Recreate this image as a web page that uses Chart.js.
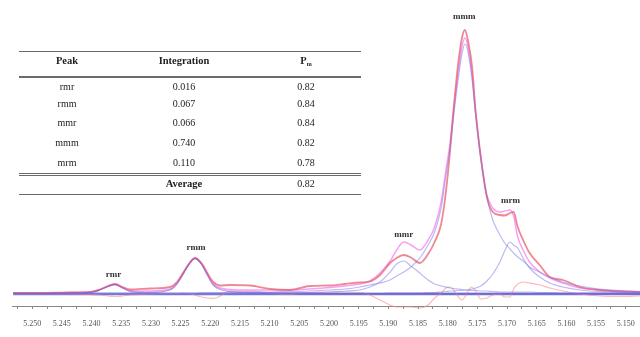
<!DOCTYPE html>
<html>
<head>
<meta charset="utf-8">
<script src="https://cdn.jsdelivr.net/npm/chart.js@4"></script>
<style>
  html, body { margin: 0; padding: 0; background: #fff; }
  #wrap { position: relative; width: 640px; height: 337px; }
  #table { position: absolute; left: 0; top: 0; width: 640px; height: 337px; font-family: "Liberation Serif", "Times New Roman", serif; color: #222; pointer-events: none; }
  .rule { position: absolute; left: 19px; width: 342px; background: #6a6a6a; }
  .cell { position: absolute; transform: translate(-50%, -50%); white-space: nowrap; font-size: 10px; line-height: 1; }
  .bold { font-weight: bold; font-size: 10.5px; }
  sub { font-size: 6px; vertical-align: -2px; }
</style>
</head>
<body>
<div id="wrap">
  <canvas id="chart" width="640" height="337"></canvas>
  <div id="table"></div>
</div>
<script>
// chemical shift (ppm) of every sampled point
var shifts = [5.2532, 5.2487, 5.2436, 5.2402, 5.2386, 5.2372, 5.2360, 5.2348, 5.2335, 5.2301,
  5.2268, 5.2256, 5.2246, 5.2236, 5.2226, 5.2215, 5.2205, 5.2195, 5.2183, 5.2167,
  5.2133, 5.2099, 5.2066, 5.2032, 5.1998, 5.1973, 5.1948, 5.1931, 5.1914, 5.1897,
  5.1886, 5.1874, 5.1862, 5.1847, 5.1833, 5.1822, 5.1811, 5.1803, 5.1796, 5.1790,
  5.1783, 5.1776, 5.1771, 5.1766, 5.1759, 5.1753, 5.1744, 5.1734, 5.1724, 5.1712,
  5.1704, 5.1695, 5.1689, 5.1682, 5.1673, 5.1662, 5.1645, 5.1628, 5.1606, 5.1577,
  5.1544, 5.1510, 5.1476];

// measured spectrum
var measured = [1, 1, 1.5, 2, 4.5, 8, 10, 7, 4.5, 5.5,
  7, 12, 21, 30, 36, 31, 21, 12, 8.5, 9,
  8.5, 5, 4, 8, 8.5, 10, 11.5, 12.5, 19, 31,
  36, 39, 36.5, 31, 40, 52, 70, 102, 143, 185,
  227, 256, 264, 254, 228, 183, 136, 97, 82, 79,
  78.5, 81, 82, 67, 54, 41, 29, 17, 14, 7,
  4, 2.5, 2];

// sum of fitted peaks
var fitted = [1, 1, 1.5, 2, 4.5, 8, 9.5, 6.5, 3.5, 3,
  5, 11, 20, 30, 35.5, 30.5, 20, 10, 6, 4.5,
  4, 4, 4, 5, 6.5, 8, 10, 13, 21, 33,
  44, 52, 49, 44, 54, 67, 92, 124, 151, 184,
  218, 247, 256, 248, 219, 182, 136, 99, 86, 82,
  83, 84, 78, 57, 44, 32, 22, 16, 11, 6,
  4, 3, 2];

// fitted components
var rmrRmmPeak = [0.5, 0.5, 1, 1.5, 4, 7.5, 9.5, 6, 2.5, 1.5,
  4, 10, 19.5, 29.5, 35.5, 30, 19, 9, 4.5, 2.5,
  1.5, 1, 1, 0.5, 0.5, 0.5, 0.5, 0.5, 0.5, 0.5,
  0.5, 0.5, 0.5, 0.5, 0.5, 0.5, 0.5, 0.5, 0.5, 0.5,
  0.5, 0.5, 0.5, 0.5, 0.5, 0.5, 0.5, 0.5, 0.5, 0.5,
  0.5, 0.5, 0.5, 0.5, 0.5, 0.5, 0.5, 0.5, 0.5, 0.5,
  0.5, 0.5, 0.5];
var mmrPeak = [0.5, 0.5, 0.5, 0.5, 0.5, 0.5, 0.5, 0.5, 0.5, 0.5,
  0.5, 0.5, 0.5, 0.5, 0.5, 0.5, 0.5, 0.5, 0.5, 0.5,
  1, 1, 1, 1.5, 2, 3, 4, 7, 12, 22,
  30, 33, 28, 21, 14, 10, 8, 7, 6, 5.5,
  5, 4.5, 4, 4, 3.5, 3.5, 3, 3, 2.5, 2,
  2, 2, 2, 2, 2, 2, 1.5, 1.5, 1, 1,
  1, 1, 1];
var mmmPeak = [0.5, 0.5, 0.5, 1, 1, 1, 1, 1, 1, 1,
  1, 1, 1, 1, 1, 1.5, 1.5, 1.5, 1.5, 1.5,
  2, 2, 2.5, 3, 4, 5, 7, 9, 11, 14,
  18, 22, 27, 36, 49, 62, 86, 118, 146, 178,
  212, 240, 250, 243, 215, 180, 134, 97, 74, 59,
  51, 45, 41, 37, 33, 27, 22, 17, 12, 8,
  5, 3.5, 2.5];
var mrmPeak = [0, 0, 0, 0, 0, 0, 0, 0, 0, 0,
  0, 0, 0, 0, 0, 0, 0, 0, 0, 0,
  0.5, 0.5, 0.5, 0.5, 0.5, 0.5, 0.5, 0.5, 0.5, 1,
  1, 1, 1, 1, 1.5, 1.5, 2, 2.5, 3, 3,
  3.5, 3.5, 4, 4, 5, 6, 8, 13, 20, 32,
  43, 52, 49, 46, 36, 26, 17, 11, 7, 4,
  2.5, 2, 1.5];

// measured minus fit
var residual = [0, 0, 0, -0.5, -1, -2, -2.5, -2, -1, 0,
  0.5, 0.5, 1, 0.5, -1, -3, -4, -4.5, -2, 3,
  3, 1, 0, 1.5, 2, 2, 1.5, -1, -6, -11,
  -13, -13, -13, -14, -11, -4, 1, 6, 7, 4,
  -2, -6, -3, 3, 7, 3, -5, -4, -1, 0,
  -3, -3, 5, 10, 12, 11, 9, 6, 3, 0,
  -2, -2.5, -2];

var tickValues = [];
for (var t = 52525; t >= 51500; t -= 25) tickValues.push(t / 10000);

// peak labels
var peakNames = ['rmr', 'rmm', 'mmr', 'mmm', 'mrm'];
var peakShifts = [5.2363, 5.2224, 5.1874, 5.1772, 5.1694];
var labelHeights = [19, 46.5, 59.5, 277, 93.5];

// table
var integrations = ['0.016', '0.067', '0.066', '0.740', '0.110'];
var pmValues = ['0.82', '0.84', '0.84', '0.82', '0.78'];
var pmAverage = '0.82';

function pts(values) {
  return shifts.map(function (s, i) { return { x: s, y: values[i] }; });
}

var peakLabels = {
  id: 'peakLabels',
  afterDatasetsDraw: function (chart) {
    var c = chart.ctx, xs = chart.scales.x, ys = chart.scales.y;
    c.save();
    c.font = 'bold 9px "Liberation Serif", serif';
    c.fillStyle = '#333';
    c.textAlign = 'center';
    c.textBaseline = 'middle';
    peakNames.forEach(function (n, i) {
      c.fillText(n, xs.getPixelForValue(peakShifts[i]), ys.getPixelForValue(labelHeights[i]));
    });
    c.restore();
  }
};

var compColor = 'rgba(120,120,225,0.5)';

new Chart(document.getElementById('chart'), {
  type: 'line',
  data: {
    datasets: [
      { label: 'rmr/rmm', data: pts(rmrRmmPeak), borderColor: 'rgba(110,90,215,0.55)', borderWidth: 1.3 },
      { label: 'mmr', data: pts(mmrPeak), borderColor: compColor, borderWidth: 1.2 },
      { label: 'mmm', data: pts(mmmPeak), borderColor: compColor, borderWidth: 1.2 },
      { label: 'mrm', data: pts(mrmPeak), borderColor: compColor, borderWidth: 1.2 },
      { label: 'measured', data: pts(measured), borderColor: 'rgba(230,80,95,0.68)', borderWidth: 1.8 },
      { label: 'fit', data: pts(fitted), borderColor: 'rgba(246,120,240,0.7)', borderWidth: 1.5 },
      { label: 'residual', data: pts(residual), borderColor: 'rgba(250,140,140,0.6)', borderWidth: 1.2, clip: false },
      { label: 'baseline', data: pts(shifts.map(function () { return 0; })), borderColor: 'rgba(95,95,205,0.85)', borderWidth: 2.5 }
    ]
  },
  options: {
    responsive: false,
    animation: false,
    devicePixelRatio: 1,
    layout: { padding: { left: 12, right: 0, top: 0, bottom: 0 } },
    plugins: { legend: { display: false }, tooltip: { enabled: false } },
    elements: {
      point: { radius: 0 },
      line: { cubicInterpolationMode: 'monotone', fill: false }
    },
    scales: {
      x: {
        type: 'linear',
        reverse: true,
        min: 5.1476,
        max: 5.2534,
        afterBuildTicks: function (s) { s.ticks = tickValues.map(function (v) { return { value: v }; }); },
        afterFit: function (s) { s.height = 31; s.paddingLeft = 0; s.paddingRight = 0; },
        ticks: {
          autoSkip: false,
          maxRotation: 0,
          padding: 10,
          color: '#555',
          font: { family: '"Liberation Serif", serif', size: 8 },
          callback: function (v) { return Math.round(v * 10000) % 50 === 0 ? v.toFixed(3) : ''; }
        },
        grid: { drawOnChartArea: false, tickLength: 3, color: '#888' },
        border: { color: '#888', width: 1 }
      },
      y: { display: false, min: -12, max: 294 }
    }
  },
  plugins: [peakLabels]
});

// table overlay
var tbl = document.getElementById('table');
function rule(y, h) {
  var d = document.createElement('div');
  d.className = 'rule';
  d.style.top = y + 'px';
  d.style.height = h + 'px';
  tbl.appendChild(d);
}
function cell(x, y, html, bold) {
  var d = document.createElement('div');
  d.className = 'cell' + (bold ? ' bold' : '');
  d.style.left = x + 'px';
  d.style.top = y + 'px';
  d.innerHTML = html;
  tbl.appendChild(d);
}
var colX = [67, 184, 306];
var rowY = [86.5, 103.5, 122.5, 142.5, 162.5];
rule(50.5, 1.5);
cell(colX[0], 60.5, 'Peak', true);
cell(colX[1], 60.5, 'Integration', true);
cell(colX[2], 60.5, 'P<sub>m</sub>', true);
rule(76, 2);
peakNames.forEach(function (n, i) {
  cell(colX[0], rowY[i], n);
  cell(colX[1], rowY[i], integrations[i]);
  cell(colX[2], rowY[i], pmValues[i]);
});
rule(172.5, 1);
rule(175, 1);
cell(colX[1], 183.5, 'Average', true);
cell(colX[2], 183.5, pmAverage);
rule(193.5, 1.5);
</script>
</body>
</html>
